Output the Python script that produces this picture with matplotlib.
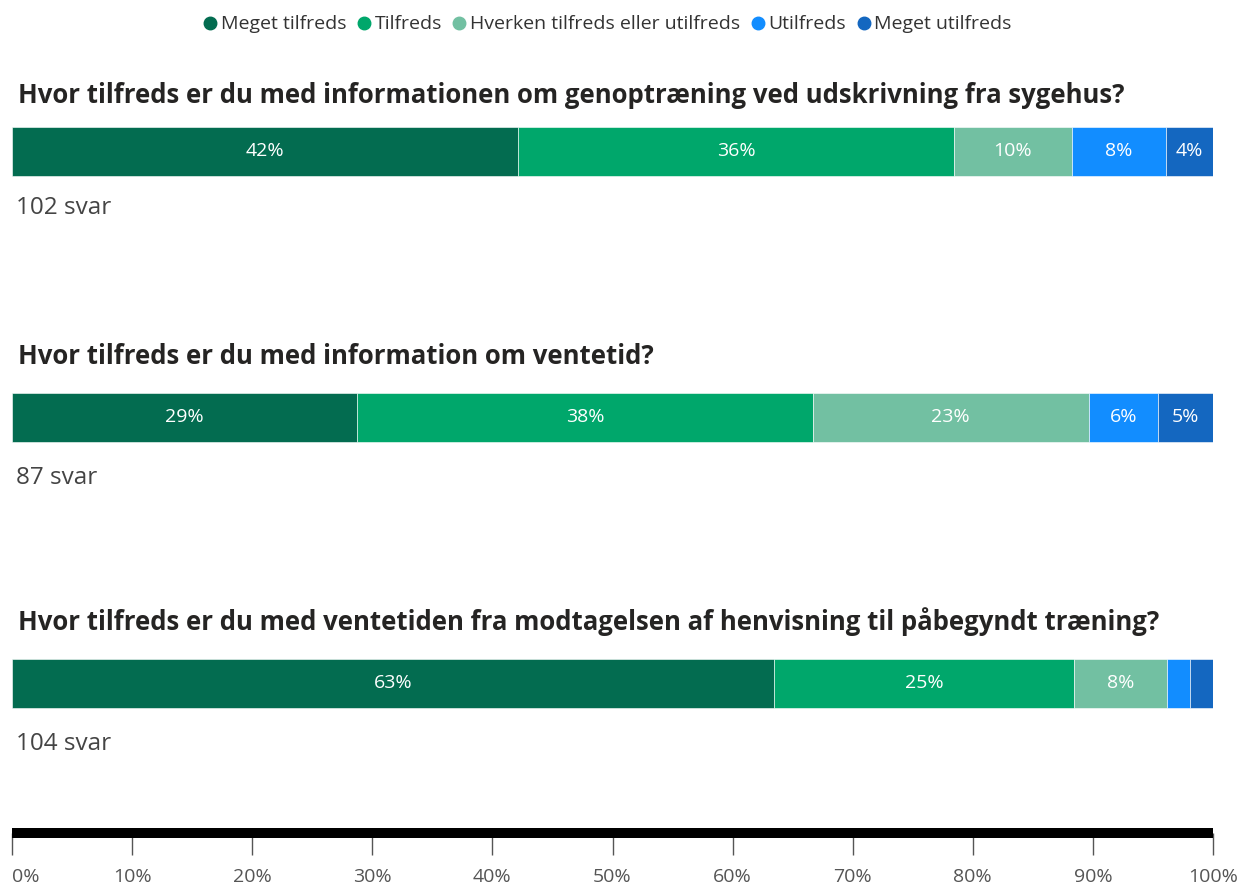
import matplotlib.pyplot as plt
from matplotlib.lines import Line2D

# svarkategorier og farver
categories = ['Meget tilfreds', 'Tilfreds', 'Hverken tilfreds eller utilfreds',
              'Utilfreds', 'Meget utilfreds']
colors = ['#036c50', '#00a76b', '#72c0a2', '#128dff', '#1467c0']

questions = [
    'Hvor tilfreds er du med informationen om genoptræning ved udskrivning fra sygehus?',
    'Hvor tilfreds er du med information om ventetid?',
    'Hvor tilfreds er du med ventetiden fra modtagelsen af henvisning til påbegyndt træning?',
]
svar = [102, 87, 104]

# antal svar pr. kategori
q1 = [43, 37, 10, 8, 4]
q2 = [25, 33, 20, 5, 4]
q3 = [66, 26, 8, 2, 2]
answers = [q1, q2, q3]

ticks = list(range(0, 101, 10))

W, H = 1245, 891
plt.rcParams['font.family'] = ['Open Sans', 'DejaVu Sans']
fig = plt.figure(figsize=(W / 100, H / 100), dpi=100)

ax = fig.add_axes([12 / W, (H - 833) / H, 1201 / W, 833 / H])
ax.set_xlim(0, 100)
ax.set_ylim(833, 0)

rows = [151, 417, 683]
title_gap = [56, 60, 61]
svar_gap = [57, 61, 61]
for i, (q, counts, n) in enumerate(zip(questions, answers, svar)):
    yc = rows[i]
    pct = [c / n * 100 for c in counts]
    left = 0
    for p, col in zip(pct, colors):
        ax.barh(yc, p, left=left, height=49, color=col, edgecolor='white', linewidth=0.4)
        if p >= 3:
            ax.text(left + p / 2, yc, f'{p:.0f}%', ha='center', va='center',
                    color='white', fontsize=14)
        left += p
    ax.text(0.005, yc - title_gap[i], q, transform=ax.get_yaxis_transform(), fontsize=18.5,
            fontweight='bold', va='center', color='#252423')
    ax.text(0.003, yc + svar_gap[i], f'{n} svar', transform=ax.get_yaxis_transform(),
            fontsize=17.5, va='center', color='#444444')

for s in ['left', 'top', 'right']:
    ax.spines[s].set_visible(False)
ax.spines['bottom'].set_linewidth(7.2)
ax.spines['bottom'].set_color('black')
ax.spines['bottom'].set_capstyle('butt')
ax.set_yticks([])
ax.set_xticks(ticks)
ax.set_xticklabels([f'{t}%' for t in ticks])
ax.tick_params(axis='x', length=15.8, width=1, color='#555555', pad=9.5,
               labelsize=14, labelcolor='#555555')
ax.get_xticklabels()[0].set_ha('left')

handles = [Line2D([], [], marker='o', linestyle='', markersize=9, color=c) for c in colors]
fig.legend(handles, categories, loc='upper center', bbox_to_anchor=(608 / W, 1 + 2 / H),
           ncol=5, frameon=False, handlelength=0.6, handletextpad=0.25,
           columnspacing=0.6, fontsize=14, labelcolor='#333333')

fig.savefig('out.png', dpi=100)
